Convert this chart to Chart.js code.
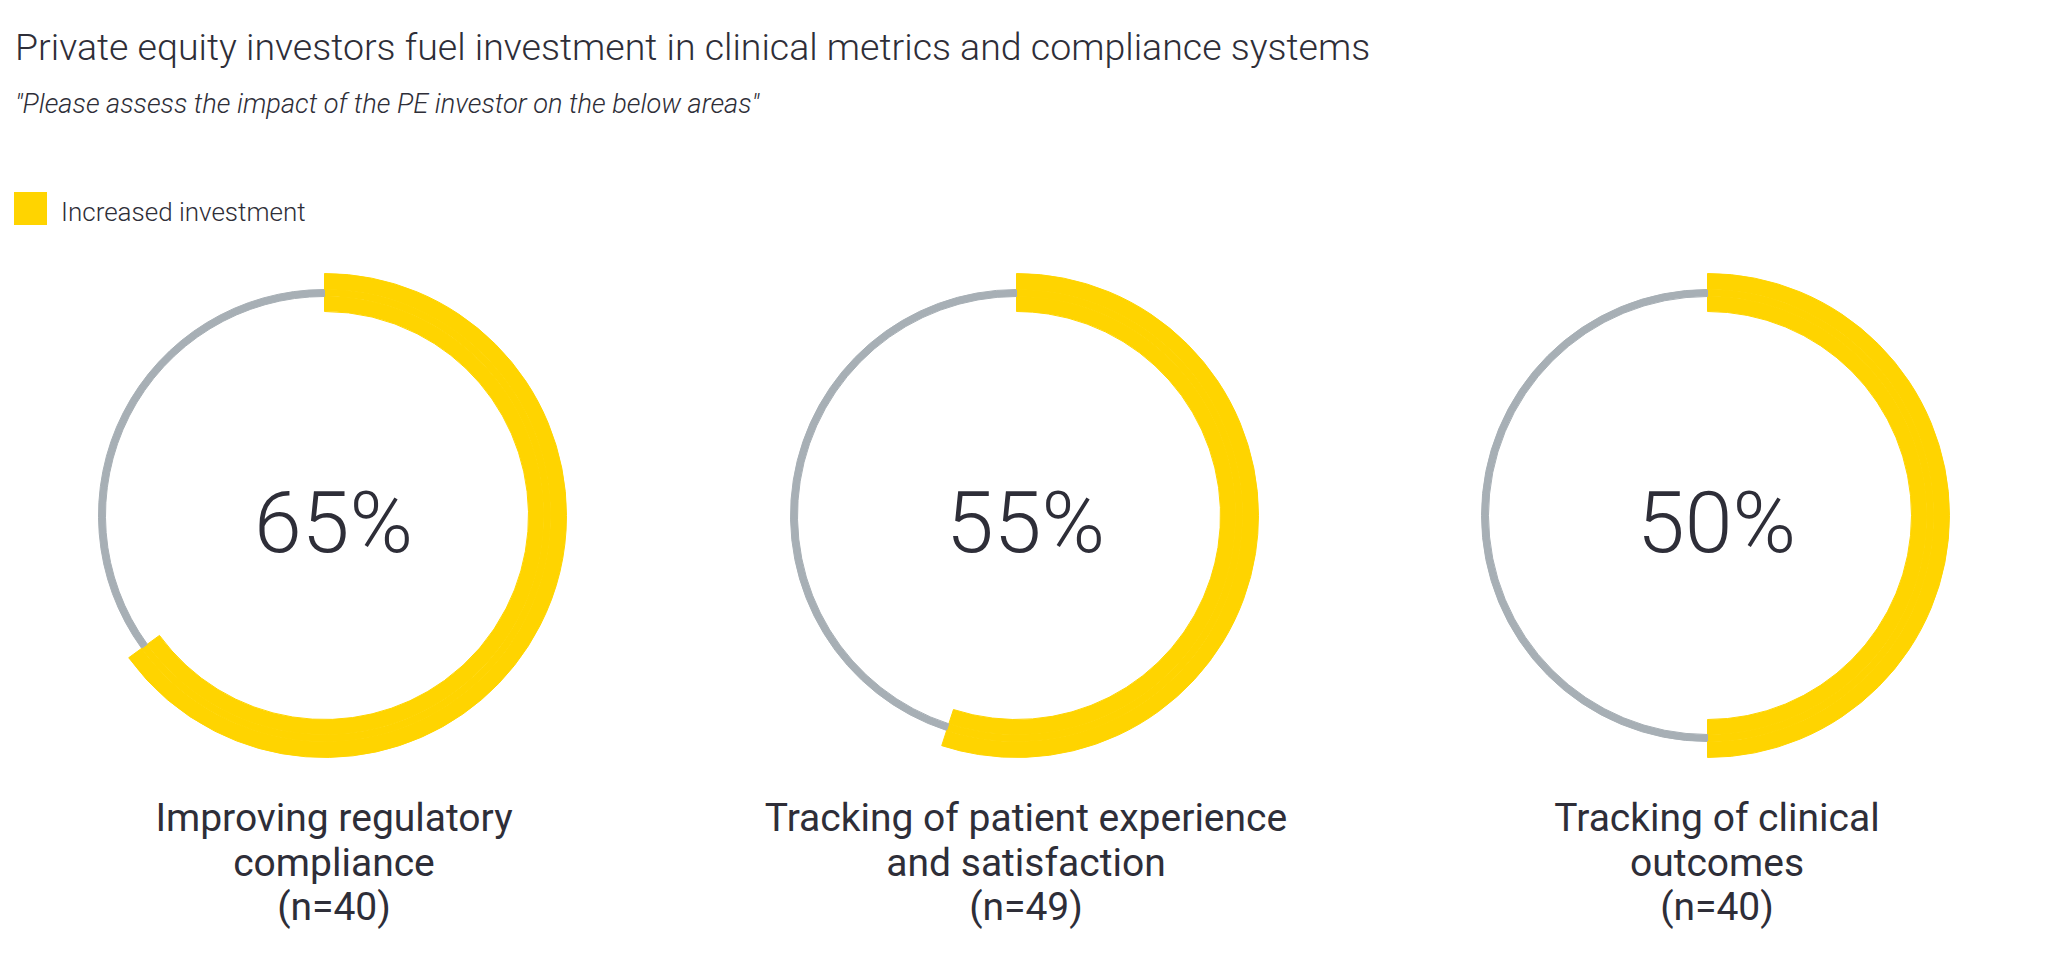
<!DOCTYPE html>
<html>
<head>
<meta charset="utf-8">
<script src="https://cdn.jsdelivr.net/npm/chart.js@4.4.0/dist/chart.umd.min.js"></script>
<style>
  html, body { margin: 0; padding: 0; background: #fff; }
  body { width: 2048px; height: 963px; position: relative; overflow: hidden; font-family: Roboto, sans-serif; color: #2e2e38; }
  .abs { position: absolute; white-space: nowrap; }
  #title { left: 15px; top: 29.4px; font-size: 37.5px; line-height: 37.5px; font-weight: 300; }
  #subtitle { left: 15px; top: 91px; font-size: 27.2px; line-height: 27.2px; font-weight: 300; font-style: italic; }
  #legend-box { left: 14px; top: 192px; width: 33px; height: 33px; background: #ffd400; }
  #legend-text { left: 61px; top: 199px; font-size: 26px; line-height: 26px; font-weight: 300; }
  .donut { position: absolute; width: 485px; height: 485px; }
  .label { position: absolute; width: 600px; text-align: center; font-size: 39px; line-height: 44.5px; }
</style>
</head>
<body>
<div id="title" class="abs">Private equity investors fuel investment in clinical metrics and compliance systems</div>
<div id="subtitle" class="abs">"Please assess the impact of the PE investor on the below areas"</div>
<div id="legend-box" class="abs"></div>
<div id="legend-text" class="abs">Increased investment</div>

<script>
// data
const categoryLines = [
    ['Improving regulatory', 'compliance'],
    ['Tracking of patient experience', 'and satisfaction'],
    ['Tracking of clinical', 'outcomes']
];
const sampleSizes = [40, 49, 40];
const increasedInvestment = [65, 55, 50]; // % of respondents

const YELLOW = '#ffd400';
const GRAY = '#a7afb5';
const NONE = 'rgba(0,0,0,0)';

// draws the big percentage in the middle of each ring
const centerText = {
    id: 'centerText',
    afterDraw(chart, args, opts) {
        const ctx = chart.ctx;
        const arc = chart.getDatasetMeta(0).data[0];
        ctx.save();
        ctx.font = '300 86px Roboto';
        ctx.fillStyle = '#2e2e38';
        ctx.textAlign = 'center';
        ctx.textBaseline = 'alphabetic';
        ctx.fillText(opts.text, arc.x + 9, arc.y + 36);
        ctx.restore();
    }
};

// one ring of the doughnut: yellow share + rest
function ring(value, restColor, weight) {
    return {
        data: [value, 100 - value],
        backgroundColor: [YELLOW, restColor],
        borderColor: [YELLOW, restColor],
        borderWidth: 1,
        weight: weight
    };
}

increasedInvestment.forEach((value, i) => {
    const cx = Math.round(324 + i * 691.5);

    const canvas = document.createElement('canvas');
    canvas.className = 'donut';
    canvas.width = 485;
    canvas.height = 485;
    canvas.style.left = (cx - 242) + 'px';
    canvas.style.top = '273px';
    document.body.appendChild(canvas);

    // outer + inner rings are only yellow, the thin middle one carries the grey track
    new Chart(canvas, {
        type: 'doughnut',
        data: {
            labels: ['Increased investment', 'Other'],
            datasets: [
                ring(value, NONE, 16),
                ring(value, GRAY, 7),
                ring(value, NONE, 15)
            ]
        },
        options: {
            responsive: false,
            animation: false,
            events: [],
            cutout: '84.3%',
            layout: { padding: 0 },
            plugins: {
                legend: { display: false },
                tooltip: { enabled: false },
                centerText: { text: value + '%' }
            }
        },
        plugins: [centerText]
    });

    const label = document.createElement('div');
    label.className = 'label';
    label.style.left = (cx + 10 - 300) + 'px';
    label.style.top = '796px';
    label.innerHTML = categoryLines[i].join('<br>') + '<br>(n=' + sampleSizes[i] + ')';
    document.body.appendChild(label);
});
</script>
</body>
</html>
